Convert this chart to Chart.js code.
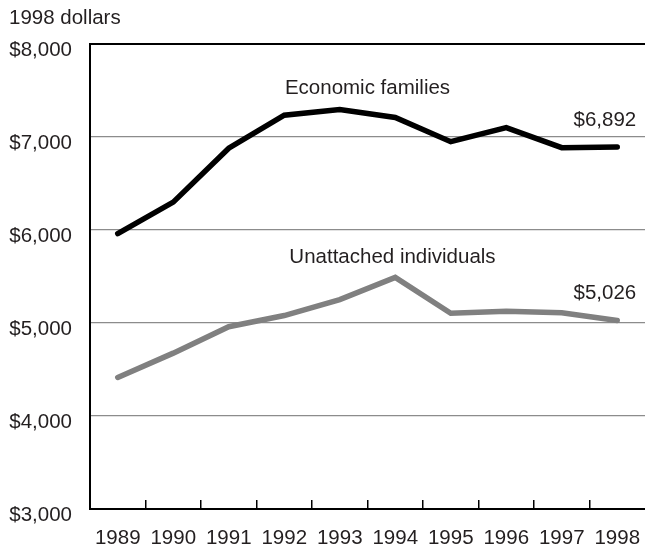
<!DOCTYPE html>
<html>
<head>
<meta charset="utf-8">
<script src="https://cdn.jsdelivr.net/npm/chart.js@4.4.1/dist/chart.umd.min.js"></script>
<style>
  html, body { margin: 0; padding: 0; background: #fff; }
  #wrap { width: 645px; height: 550px; position: relative; }
</style>
</head>
<body>
<div id="wrap"><canvas id="chart"></canvas></div>
<script>
// Income values in 1998 dollars
const years = ["1989", "1990", "1991", "1992", "1993", "1994", "1995", "1996", "1997", "1998"];
const economicFamilies = [5960, 6300, 6880, 7235, 7295, 7210, 6950, 7100, 6885, 6892];
const unattachedIndividuals = [4415, 4676, 4960, 5080, 5252, 5490, 5105, 5125, 5110, 5026];
const yTicks = [3000, 4000, 5000, 6000, 7000, 8000];
const unitLabel = "1998 dollars";

const textColor = "#231f20";
const fontFamily = '"Liberation Sans", Arial, Helvetica, sans-serif';
const fontSize = 20.5;
const overhang = -2; // plot runs a little past the right edge of the canvas

const money = (v) => "$" + v.toLocaleString("en-US");

/**
 * Draws the unit caption, series names and end values as text
 */
const annotations = {
  id: "annotations",
  afterDatasetsDraw(chart) {
    const { ctx, scales } = chart;
    const x = scales.x;
    const y = scales.y;
    ctx.save();
    ctx.font = `${fontSize}px ${fontFamily}`;
    ctx.fillStyle = textColor;
    ctx.textBaseline = "middle";

    ctx.textAlign = "left";
    ctx.fillText(unitLabel, 9, 18);

    // series names
    ctx.textAlign = "center";
    ctx.fillText("Economic families", x.getPixelForValue(4.5), y.getPixelForValue(7525));
    ctx.fillText("Unattached individuals", x.getPixelForValue(4.95), y.getPixelForValue(5710));

    // last values
    ctx.textAlign = "right";
    chart.data.datasets.forEach((ds, i) => {
      const pts = chart.getDatasetMeta(i).data;
      const last = pts[pts.length - 1];
      ctx.fillText(money(ds.data[ds.data.length - 1]), last.x + 19, last.y - 27);
    });
    ctx.restore();
  },
};

new Chart(document.getElementById("chart"), {
  type: "line",
  data: {
    labels: years,
    datasets: [
      {
        label: "Economic families",
        data: economicFamilies,
        borderColor: "#000",
        borderWidth: 5.5,
        borderCapStyle: "round",
        borderJoinStyle: "miter",
        pointRadius: 0,
        tension: 0,
      },
      {
        label: "Unattached individuals",
        data: unattachedIndividuals,
        borderColor: "#808080",
        borderWidth: 5.5,
        borderCapStyle: "round",
        borderJoinStyle: "miter",
        pointRadius: 0,
        tension: 0,
      },
    ],
  },
  options: {
    responsive: true,
    maintainAspectRatio: false,
    animation: false,
    layout: { padding: { top: 44, left: 0, right: overhang, bottom: 0 } },
    plugins: {
      legend: { display: false },
      tooltip: { enabled: false },
    },
    scales: {
      x: {
        offset: true,
        border: { display: true, color: "#000", width: 2 },
        grid: {
          offset: true,
          drawOnChartArea: false,
          drawTicks: true,
          tickLength: -9,
          color: (c) => (c.tick ? "#000" : "rgba(0,0,0,0)"),
          lineWidth: 1.5,
        },
        ticks: {
          color: textColor,
          font: { family: fontFamily, size: fontSize },
          padding: 26,
          maxRotation: 0,
          autoSkip: false,
        },
        afterFit: (s) => {
          s.height = 41;
          s.paddingLeft = 0;
          s.paddingRight = overhang;
        },
      },
      y: {
        min: 3000,
        max: 8000,
        afterBuildTicks: (s) => { s.ticks = yTicks.map((v) => ({ value: v })); },
        border: { display: true, color: "#000", width: 2 },
        grid: {
          drawTicks: false,
          color: (c) => (c.tick && (c.tick.value === 8000 || c.tick.value === 3000) ? "#000" : "#8c8c8c"),
          lineWidth: (c) => (c.tick && c.tick.value === 8000 ? 2 : 1.2),
        },
        ticks: {
          color: textColor,
          font: { family: fontFamily, size: fontSize },
          padding: 18,
          labelOffset: 6,
          callback: (v) => money(v),
        },
        afterFit: (s) => {
          s.width = 90;
          s.paddingRight = overhang;
        },
      },
    },
  },
  plugins: [annotations],
});
</script>
</body>
</html>
